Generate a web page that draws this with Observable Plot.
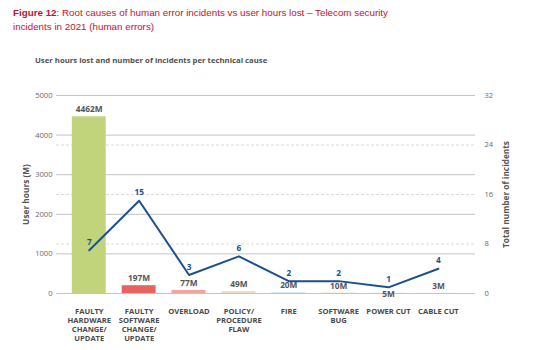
<!DOCTYPE html>
<html>
<head>
<meta charset="utf-8">
<script src="https://cdn.jsdelivr.net/npm/d3@7"></script>
<script src="https://cdn.jsdelivr.net/npm/@observablehq/plot@0.6"></script>
<style>
  body { margin: 0; background: #fff; width: 541px; height: 350px; position: relative; overflow: hidden; }
  #title { position: absolute; left: 13px; top: 6px; font-family: "Liberation Sans", Arial, sans-serif; font-size: 9.8px; line-height: 14px; color: #c8102e; }
  #title b { font-weight: bold; }
  #subtitle { position: absolute; left: 35px; top: 55px; font-family: "Open Sans", sans-serif; font-weight: bold; font-size: 7.75px; color: #505050; }
  #chart { position: absolute; left: 0; top: 70px; }
</style>
</head>
<body>
<div id="title"><b>Figure 12</b>: Root causes of human error incidents vs user hours lost – Telecom security<br>incidents in 2021 (human errors)</div>
<div id="subtitle">User hours lost and number of incidents per technical cause</div>
<div id="chart"></div>
<script>
const categories = [
  "FAULTY\nHARDWARE\nCHANGE/\nUPDATE",
  "FAULTY\nSOFTWARE\nCHANGE/\nUPDATE",
  "OVERLOAD",
  "POLICY/\nPROCEDURE\nFLAW",
  "FIRE",
  "SOFTWARE\nBUG",
  "POWER CUT",
  "CABLE CUT"
];
const userHours = [4462, 197, 77, 49, 20, 10, 5, 3];
const incidents = [7, 15, 3, 6, 2, 2, 1, 4];
const barColors = ["#c2d47b", "#e8635f", "#f2a39c", "#f3dcc0", "#c9e0f2", "#e5e6bf", "#f0cfcf", "#dcdcdc"];
const leftTicks = [0, 1000, 2000, 3000, 4000, 5000];
const rightTicks = [0, 8, 16, 24, 32];

const factor = leftTicks[leftTicks.length - 1] / rightTicks[rightTicks.length - 1];
const data = categories.map((c, i) => ({cat: c, hours: userHours[i], inc: incidents[i]}));

const chart = Plot.plot({
  width: 541,
  height: 280,
  marginTop: 25,
  marginBottom: 57,
  marginLeft: 56,
  marginRight: 66,
  style: {fontFamily: "Open Sans, sans-serif", fontSize: "7.6px", color: "#6a6a6a", background: "white"},
  x: {domain: categories, paddingInner: 0.32, paddingOuter: 0.36, align: 0.44, round: false},
  y: {domain: [0, 5000]},
  color: {domain: categories, range: barColors},
  marks: [
    Plot.ruleY(rightTicks.filter(t => t > 0 && t < 32).map(t => t * factor), {stroke: "#d2d2d2", strokeDasharray: "3,2", strokeWidth: 0.8}),
    Plot.ruleY(leftTicks, {stroke: "#c4c4c4", strokeWidth: 1}),
    Plot.barY(data, {x: "cat", y: "hours", fill: "cat"}),
    Plot.text(data.filter((d, i) => i !== 6), {x: "cat", y: "hours", text: d => d.hours + "M", dy: -7, fontSize: 8.3, fontWeight: "bold", fill: "#555"}),
    Plot.text(data.filter((d, i) => i === 6), {x: "cat", y: "hours", text: d => d.hours + "M", dy: 1, fontSize: 8.3, fontWeight: "bold", fill: "#555"}),
    Plot.line(data, {x: "cat", y: d => d.inc * factor, stroke: "#1c4f8f", strokeWidth: 2}),
    Plot.text(data, {x: "cat", y: d => d.inc * factor, text: d => String(d.inc), dy: -8, fontSize: 8.3, fontWeight: "bold", fill: "#1c4f8f"}),
    Plot.axisY({anchor: "left", ticks: leftTicks, tickFormat: d => String(d), tickSize: 0, tickPadding: 4, label: "User hours (M)", labelAnchor: "center", labelOffset: 33, labelArrow: false}),
    Plot.axisY({anchor: "right", ticks: rightTicks.map(t => t * factor), tickFormat: d => String(Math.round(d / factor)), tickSize: 0, tickPadding: 9, label: "Total number of incidents", labelAnchor: "center", labelOffset: 33, labelArrow: false}),
    Plot.axisX({tickSize: 0, tickPadding: 14, label: null, fontWeight: "bold", fill: "#4a4a4a", lineHeight: 1.2})
  ]
});
document.getElementById("chart").appendChild(chart);
d3.select(chart).selectAll('g[aria-label="y-axis label"] text').style("font-weight", "bold").style("fill", "#555").style("font-size", "8.3px");
</script>
</body>
</html>
